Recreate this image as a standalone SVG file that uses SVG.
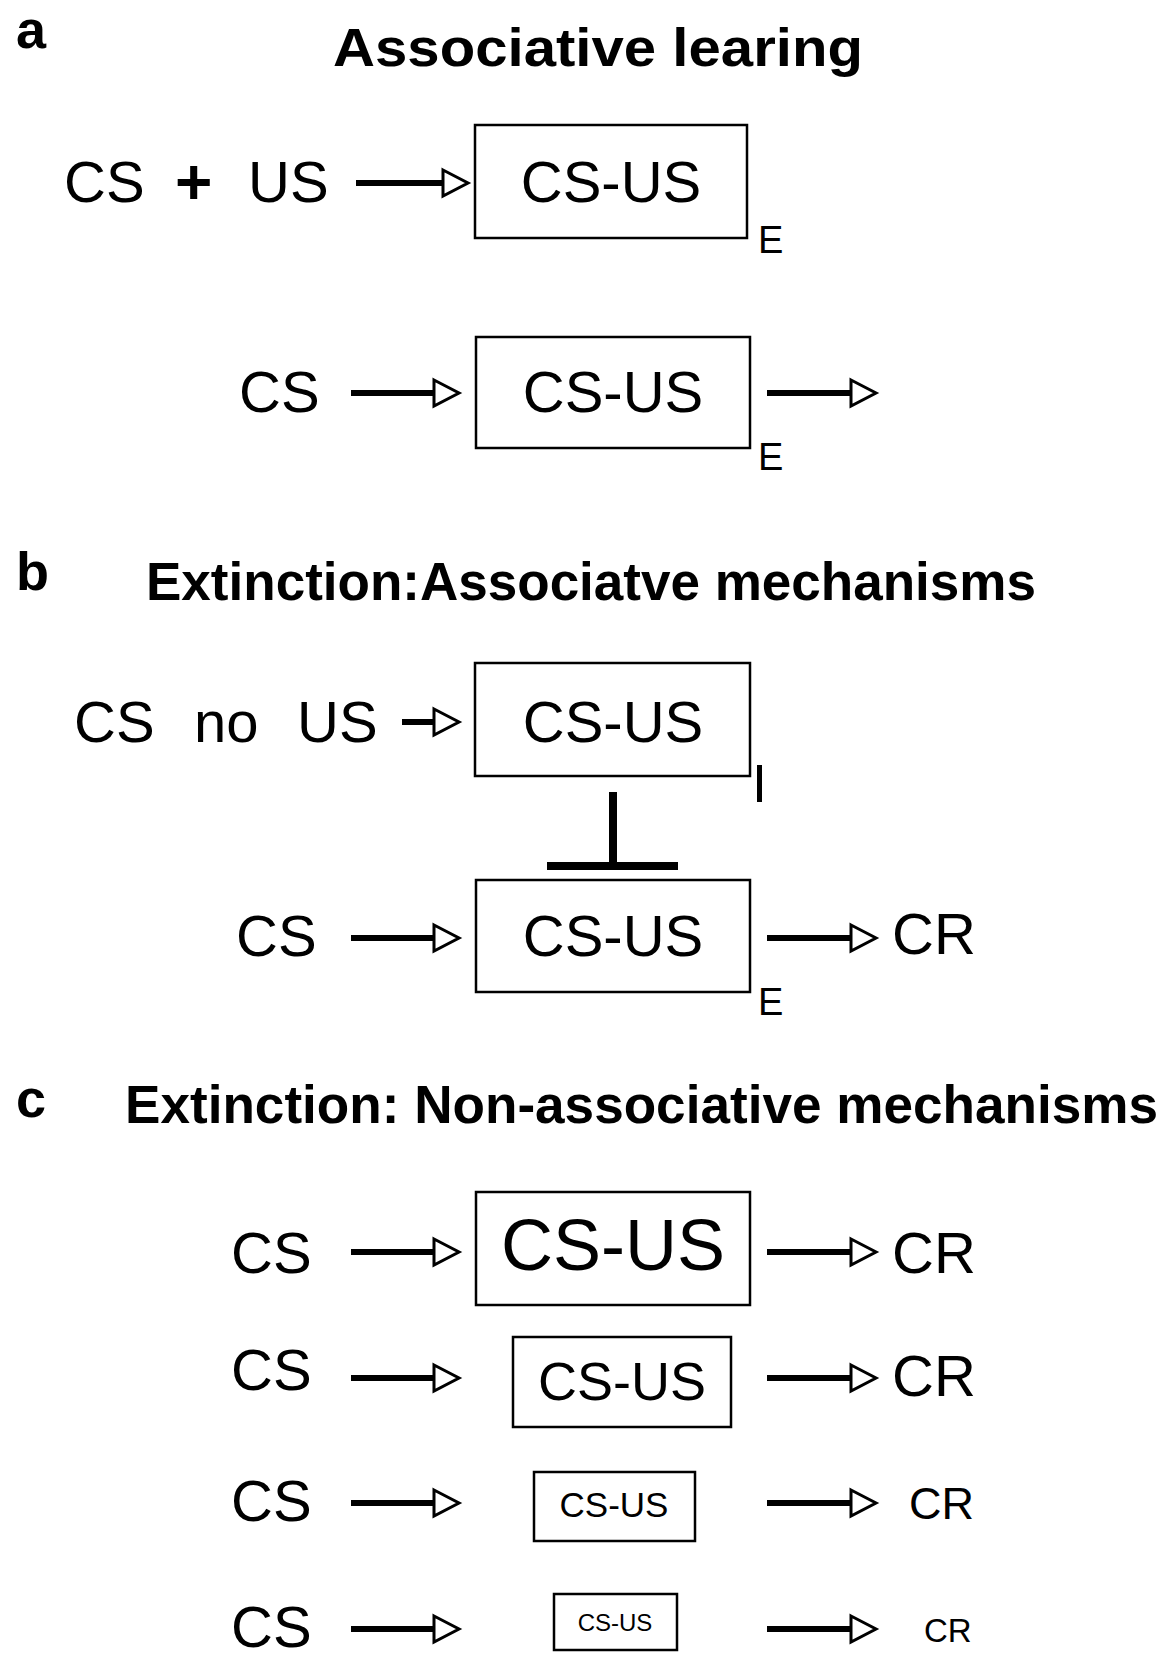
<svg xmlns="http://www.w3.org/2000/svg" width="1173" height="1666" viewBox="0 0 1173 1666">
<style>
text{font-family:"Liberation Sans",Arial,sans-serif;fill:#000}
.h{font-weight:bold;font-size:53px}
.lbl{font-weight:bold;font-size:54px}
.t{font-size:58px}
.sub{font-size:38px}
.box{fill:#fff;stroke:#000;stroke-width:2.5}
.ar{stroke:#000;stroke-width:6;fill:none;marker-end:url(#head)}
.inh{stroke:#000;stroke-width:8;fill:none}
</style>
<defs>
<marker id="head" markerUnits="userSpaceOnUse" viewBox="-3 -3 32 32" markerWidth="32" markerHeight="32" refX="0" refY="13" orient="auto">
<path d="M0,0 L25,13 L0,26 Z" fill="#fff" stroke="#000" stroke-width="3" stroke-linejoin="miter"/>
</marker>
</defs>
<rect width="1173" height="1666" fill="#fff"/>

<!-- panel labels and titles -->
<text class="lbl" x="16" y="48">a</text>
<text class="h" x="333" y="66" font-size="56" textLength="530" lengthAdjust="spacingAndGlyphs">Associative learing</text>
<text class="lbl" x="16" y="590">b</text>
<text class="h" x="146" y="600" textLength="890" lengthAdjust="spacingAndGlyphs">Extinction:Associatve mechanisms</text>
<text class="lbl" x="16" y="1117">c</text>
<text class="h" x="125" y="1123" textLength="1033" lengthAdjust="spacingAndGlyphs">Extinction: Non-associative mechanisms</text>

<!-- section a -->
<g id="a1-input"><text class="t" x="64" y="202">CS</text><text x="175" y="204" font-size="64" font-weight="bold">+</text><text class="t" x="248" y="202">US</text></g>
<g id="a1-box"><rect class="box" x="475" y="125" width="272" height="113"/><text class="t" x="611" y="202" text-anchor="middle">CS-US</text><text class="sub" x="758" y="253">E</text></g>

<g id="a2-input"><text class="t" x="239" y="412">CS</text></g>
<g id="a2-box"><rect class="box" x="476" y="337" width="274" height="111"/><text class="t" x="613" y="412" text-anchor="middle">CS-US</text><text class="sub" x="758" y="470">E</text></g>

<!-- section b -->
<g id="b1-input"><text class="t" x="74" y="742">CS</text><text class="t" x="194" y="742">no</text><text class="t" x="297" y="742">US</text></g>
<g id="b1-box"><rect class="box" x="475" y="663" width="275" height="113"/><text class="t" x="613" y="742" text-anchor="middle">CS-US</text><text x="752" y="802" font-size="54">I</text></g>

<g id="b2-input"><text class="t" x="236" y="956">CS</text></g>
<g id="b2-box"><rect class="box" x="476" y="880" width="274" height="112"/><text class="t" x="613" y="956" text-anchor="middle">CS-US</text><text class="sub" x="758" y="1015">E</text></g>
<g id="b2-output"><text class="t" x="892" y="954">CR</text></g>

<!-- section c -->
<g id="c1-input"><text class="t" x="231" y="1273">CS</text></g>
<g id="c1-box"><rect class="box" x="476" y="1192" width="274" height="113" stroke-width="3.5"/><text x="613" y="1270" font-size="72" text-anchor="middle">CS-US</text></g>
<g id="c1-output"><text class="t" x="892" y="1273">CR</text></g>

<g id="c2-input"><text class="t" x="231" y="1390">CS</text></g>
<g id="c2-box"><rect class="box" x="513" y="1337" width="218" height="90"/><text x="622" y="1400" font-size="54" text-anchor="middle">CS-US</text></g>
<g id="c2-output"><text class="t" x="892" y="1396">CR</text></g>

<g id="c3-input"><text class="t" x="231" y="1521">CS</text></g>
<g id="c3-box"><rect class="box" x="534" y="1472" width="161" height="69"/><text x="614" y="1517" font-size="35" text-anchor="middle">CS-US</text></g>
<g id="c3-output"><text x="909" y="1519" font-size="45">CR</text></g>

<g id="c4-input"><text class="t" x="231" y="1647">CS</text></g>
<g id="c4-box"><rect class="box" x="554" y="1594" width="123" height="56"/><text x="615" y="1631" font-size="24" text-anchor="middle">CS-US</text></g>
<g id="c4-output"><text x="924" y="1642" font-size="33">CR</text></g>

<!-- connectors -->
<g id="connectors">
<line class="ar" x1="356" y1="183" x2="443" y2="183"/>
<line class="ar" x1="351" y1="393" x2="434" y2="393"/>
<line class="ar" x1="767" y1="393" x2="851" y2="393"/>
<line class="ar" x1="402" y1="722" x2="434" y2="722"/>
<line class="inh" x1="613" y1="792" x2="613" y2="866"/>
<line class="inh" x1="547" y1="866" x2="678" y2="866"/>
<line class="ar" x1="351" y1="938" x2="434" y2="938"/>
<line class="ar" x1="767" y1="938" x2="851" y2="938"/>
<line class="ar" x1="351" y1="1252" x2="434" y2="1252"/>
<line class="ar" x1="767" y1="1252" x2="851" y2="1252"/>
<line class="ar" x1="351" y1="1378" x2="434" y2="1378"/>
<line class="ar" x1="767" y1="1378" x2="851" y2="1378"/>
<line class="ar" x1="351" y1="1503" x2="434" y2="1503"/>
<line class="ar" x1="767" y1="1503" x2="851" y2="1503"/>
<line class="ar" x1="351" y1="1629" x2="434" y2="1629"/>
<line class="ar" x1="767" y1="1629" x2="851" y2="1629"/>
</g>
</svg>
